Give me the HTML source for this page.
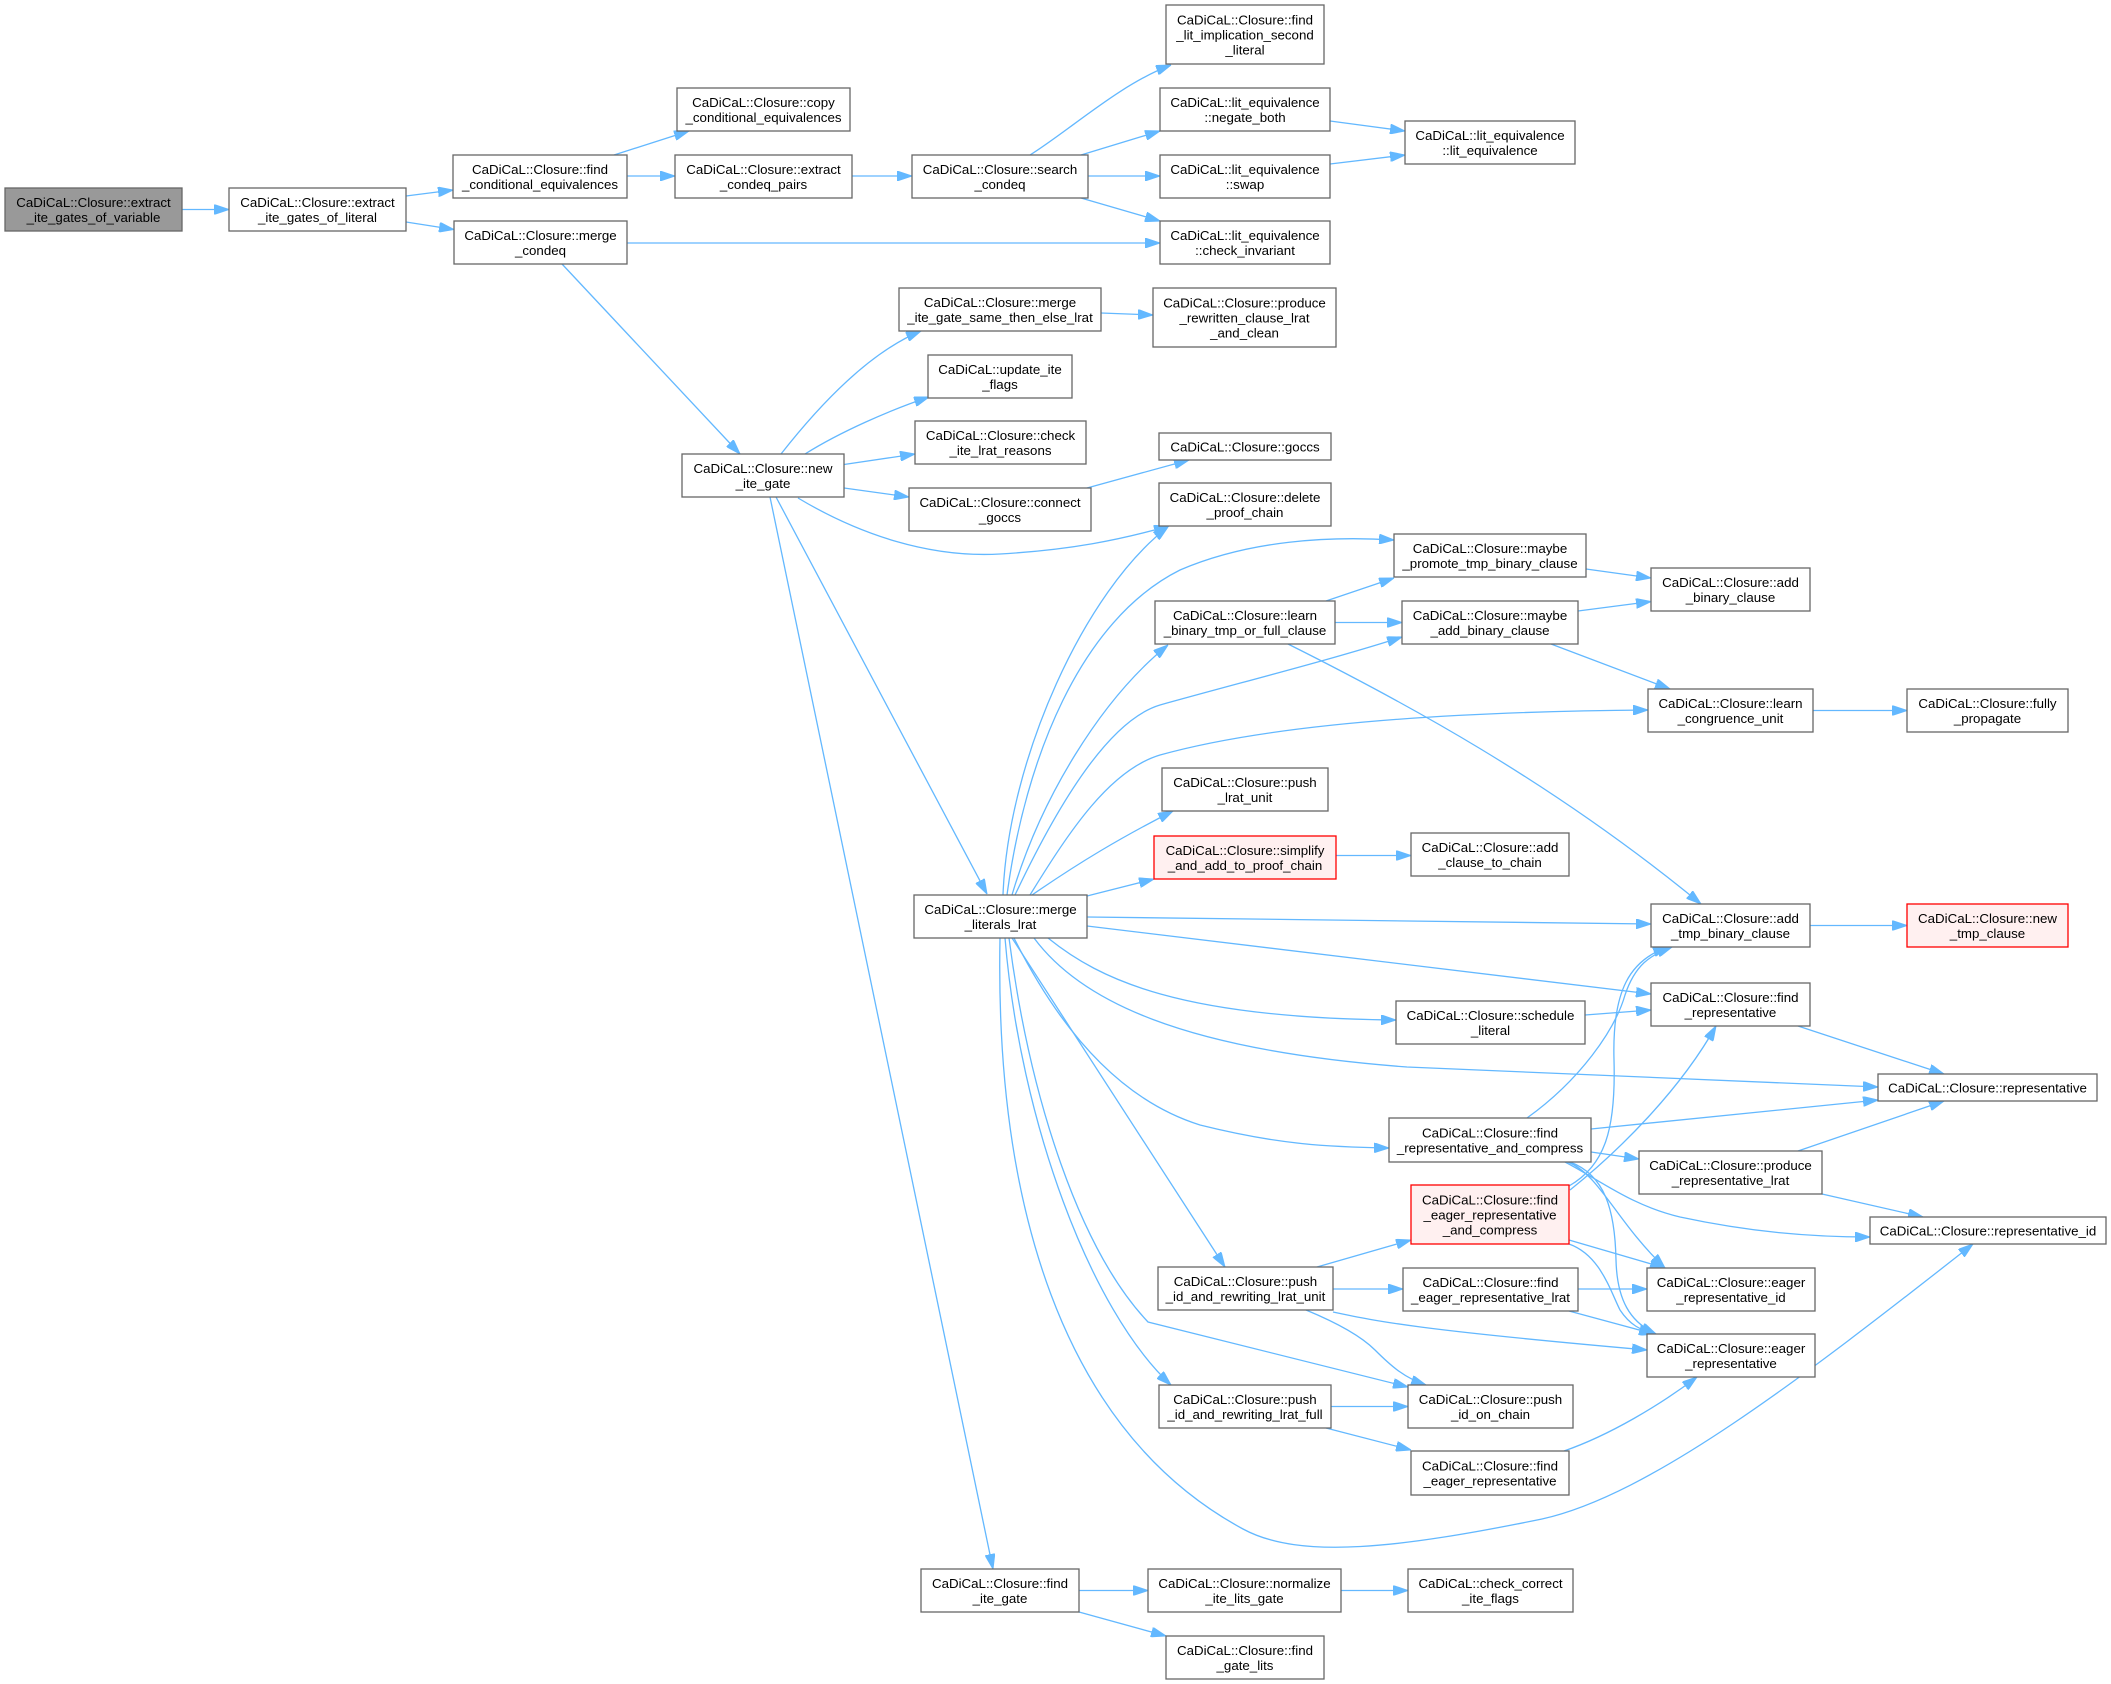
<!DOCTYPE html>
<html><head><meta charset="utf-8"><style>
html,body{margin:0;padding:0;background:#fff;}
svg{display:block;}
text{font-family:"Liberation Sans",Arial,sans-serif;font-size:13.3px;fill:#000;text-anchor:middle;}
.e{fill:none;stroke:#63b8ff;stroke-width:1.3;marker-end:url(#a);}
.n{fill:#fff;stroke:#666;stroke-width:1.3;}
.r{fill:#fff0f0;stroke:#ff0000;stroke-width:1.3;}
.g{fill:#999;stroke:#666;stroke-width:1.3;}
</style></head><body>
<svg width="2111" height="1684" viewBox="0 0 2111 1684" xmlns="http://www.w3.org/2000/svg">
<defs><marker id="a" markerUnits="userSpaceOnUse" markerWidth="15" markerHeight="10" refX="15" refY="5" orient="auto" viewBox="0 0 15 10"><path d="M0,0 L15,5 L0,10 z" fill="#63b8ff" stroke="#63b8ff" stroke-width="1"/></marker></defs>
<rect width="2111" height="1684" fill="#fff"/>
<!-- edges -->
<path class="e" d="M182,209.5 L229,209.5"/>
<path class="e" d="M406,196 L453,190"/>
<path class="e" d="M406,222 L454,229.5"/>
<path class="e" d="M614,155 L689,131"/>
<path class="e" d="M627,176 L675,176"/>
<path class="e" d="M852,176 L912,176"/>
<path class="e" d="M627,243 L1160,243"/>
<path class="e" d="M562,264 L740,454"/>
<path class="e" d="M1030,155 C1070,130 1120,84 1171,65"/>
<path class="e" d="M1081,155 L1160,131"/>
<path class="e" d="M1088,176 L1160,176"/>
<path class="e" d="M1081,198 L1160,221"/>
<path class="e" d="M1330,121 L1405,131"/>
<path class="e" d="M1330,164 L1405,155"/>
<path class="e" d="M781,454 C803,426 860,356 921,331"/>
<path class="e" d="M805,454 C840,432 890,410 929,397"/>
<path class="e" d="M844,464.5 L915,454"/>
<path class="e" d="M844,488 L909,497"/>
<path class="e" d="M798,498 C860,535 930,558 1000,554 C1070,550 1120,540 1169,526"/>
<path class="e" d="M1087,488 L1189,460"/>
<path class="e" d="M1101,313 L1153,315"/>
<path class="e" d="M776,497 L987,894"/>
<path class="e" d="M770,497 L993,1569"/>
<path class="e" d="M1003,895 C1008,760 1085,590 1168,527"/>
<path class="e" d="M1007,895 C1025,760 1080,620 1180,570 C1250,540 1330,536 1394,540"/>
<path class="e" d="M1012,895 C1040,800 1100,700 1168,645"/>
<path class="e" d="M1015,895 C1060,800 1110,720 1160,705 C1250,680 1330,660 1402,637"/>
<path class="e" d="M1030,895 C1070,830 1110,770 1160,755 C1250,730 1400,712 1648,710"/>
<path class="e" d="M1032,895 C1080,862 1120,838 1173,811"/>
<path class="e" d="M1087,896 L1154,879"/>
<path class="e" d="M1087,917 L1651,924"/>
<path class="e" d="M1087,926 L1651,994"/>
<path class="e" d="M1048,938 C1100,980 1180,1018 1396,1020"/>
<path class="e" d="M1034,938 C1080,1000 1180,1050 1407,1067 L1878,1087"/>
<path class="e" d="M1014,938 C1060,1030 1120,1100 1200,1125 C1280,1145 1330,1147 1389,1148"/>
<path class="e" d="M1012,938 L1225,1267"/>
<path class="e" d="M1009,938 C1030,1100 1080,1250 1148,1322 L1408,1387"/>
<path class="e" d="M1005,938 C1020,1120 1090,1310 1171,1385"/>
<path class="e" d="M1000,938 C995,1200 1060,1430 1243,1529 C1300,1560 1400,1548 1542,1519 C1650,1495 1800,1380 1973,1244"/>
<path class="e" d="M1326,601 L1394,578"/>
<path class="e" d="M1335,622.5 L1402,622.5"/>
<path class="e" d="M1288,644 C1400,700 1550,780 1701,904"/>
<path class="e" d="M1586,569 L1651,578"/>
<path class="e" d="M1578,611 L1651,601.5"/>
<path class="e" d="M1551,644 L1670,689"/>
<path class="e" d="M1813,710.5 L1907,710.5"/>
<path class="e" d="M1336,855.5 L1411,855.5"/>
<path class="e" d="M1810,925.5 L1907,925.5"/>
<path class="e" d="M1798,1026 L1944,1074"/>
<path class="e" d="M1585,1015 L1651,1010"/>
<path class="e" d="M1591,1129 L1878,1100"/>
<path class="e" d="M1527,1118 C1580,1080 1615,1030 1625,995 C1635,965 1650,955 1672,947"/>
<path class="e" d="M1591,1152 L1639,1159"/>
<path class="e" d="M1565,1162 C1600,1180 1630,1205 1680,1217 C1750,1232 1810,1237 1870,1237"/>
<path class="e" d="M1568,1162 C1600,1175 1615,1220 1665,1268"/>
<path class="e" d="M1570,1162 C1605,1175 1615,1210 1616,1260 C1617,1300 1630,1322 1656,1334"/>
<path class="e" d="M1569,1186 C1605,1165 1616,1130 1614,1060 C1612,990 1630,960 1668,947"/>
<path class="e" d="M1570,1190 C1620,1150 1680,1090 1716,1026"/>
<path class="e" d="M1569,1240 L1665,1268"/>
<path class="e" d="M1569,1244 C1600,1255 1610,1290 1620,1310 C1630,1325 1640,1330 1656,1334"/>
<path class="e" d="M1317,1267 L1411,1240"/>
<path class="e" d="M1333,1289 L1403,1289"/>
<path class="e" d="M1333,1312 C1380,1322 1420,1330 1647,1350"/>
<path class="e" d="M1306,1310 C1335,1322 1360,1335 1375,1350 C1392,1367 1405,1378 1426,1385"/>
<path class="e" d="M1578,1289 L1647,1289"/>
<path class="e" d="M1569,1311 L1654,1334"/>
<path class="e" d="M1331,1406.5 L1408,1406.5"/>
<path class="e" d="M1326,1428 L1411,1450"/>
<path class="e" d="M1564,1451 C1610,1435 1660,1405 1697,1377"/>
<path class="e" d="M1798,1151 L1944,1101"/>
<path class="e" d="M1822,1194 L1923,1217"/>
<path class="e" d="M1079,1590.5 L1148,1590.5"/>
<path class="e" d="M1079,1612 L1166,1636"/>
<path class="e" d="M1341,1590.5 L1408,1590.5"/>
<!-- nodes -->
<rect class="g" x="5" y="188" width="177" height="43"/><text x="93.5" y="207">CaDiCaL::Closure::extract</text><text x="93.5" y="222">_ite_gates_of_variable</text>
<rect class="n" x="229" y="188" width="177" height="43"/><text x="317.5" y="207">CaDiCaL::Closure::extract</text><text x="317.5" y="222">_ite_gates_of_literal</text>
<rect class="n" x="453" y="155" width="174" height="43"/><text x="540" y="174">CaDiCaL::Closure::find</text><text x="540" y="189">_conditional_equivalences</text>
<rect class="n" x="454" y="221" width="173" height="43"/><text x="540.5" y="240">CaDiCaL::Closure::merge</text><text x="540.5" y="255">_condeq</text>
<rect class="n" x="677" y="88" width="173" height="43"/><text x="763.5" y="107">CaDiCaL::Closure::copy</text><text x="763.5" y="122">_conditional_equivalences</text>
<rect class="n" x="675" y="155" width="177" height="43"/><text x="763.5" y="174">CaDiCaL::Closure::extract</text><text x="763.5" y="189">_condeq_pairs</text>
<rect class="n" x="912" y="155" width="176" height="43"/><text x="1000" y="174">CaDiCaL::Closure::search</text><text x="1000" y="189">_condeq</text>
<rect class="n" x="1166" y="5" width="158" height="59"/><text x="1245" y="24.5">CaDiCaL::Closure::find</text><text x="1245" y="39.5">_lit_implication_second</text><text x="1245" y="54.5">_literal</text>
<rect class="n" x="1160" y="88" width="170" height="43"/><text x="1245" y="107">CaDiCaL::lit_equivalence</text><text x="1245" y="122">::negate_both</text>
<rect class="n" x="1160" y="155" width="170" height="43"/><text x="1245" y="174">CaDiCaL::lit_equivalence</text><text x="1245" y="189">::swap</text>
<rect class="n" x="1160" y="221" width="170" height="43"/><text x="1245" y="240">CaDiCaL::lit_equivalence</text><text x="1245" y="255">::check_invariant</text>
<rect class="n" x="1405" y="121" width="170" height="43"/><text x="1490" y="140">CaDiCaL::lit_equivalence</text><text x="1490" y="155">::lit_equivalence</text>
<rect class="n" x="899" y="288" width="202" height="43"/><text x="1000" y="307">CaDiCaL::Closure::merge</text><text x="1000" y="322">_ite_gate_same_then_else_lrat</text>
<rect class="n" x="1153" y="288" width="183" height="59"/><text x="1244.5" y="307.5">CaDiCaL::Closure::produce</text><text x="1244.5" y="322.5">_rewritten_clause_lrat</text><text x="1244.5" y="337.5">_and_clean</text>
<rect class="n" x="928" y="355" width="144" height="43"/><text x="1000" y="374">CaDiCaL::update_ite</text><text x="1000" y="389">_flags</text>
<rect class="n" x="915" y="421" width="171" height="43"/><text x="1000.5" y="440">CaDiCaL::Closure::check</text><text x="1000.5" y="455">_ite_lrat_reasons</text>
<rect class="n" x="1159" y="433" width="172" height="27"/><text x="1245" y="451.5">CaDiCaL::Closure::goccs</text>
<rect class="n" x="909" y="488" width="182" height="43"/><text x="1000" y="507">CaDiCaL::Closure::connect</text><text x="1000" y="522">_goccs</text>
<rect class="n" x="1159" y="483" width="172" height="43"/><text x="1245" y="502">CaDiCaL::Closure::delete</text><text x="1245" y="517">_proof_chain</text>
<rect class="n" x="682" y="454" width="162" height="43"/><text x="763" y="473">CaDiCaL::Closure::new</text><text x="763" y="488">_ite_gate</text>
<rect class="n" x="1394" y="534" width="192" height="43"/><text x="1490" y="553">CaDiCaL::Closure::maybe</text><text x="1490" y="568">_promote_tmp_binary_clause</text>
<rect class="n" x="1155" y="601" width="180" height="43"/><text x="1245" y="620">CaDiCaL::Closure::learn</text><text x="1245" y="635">_binary_tmp_or_full_clause</text>
<rect class="n" x="1402" y="601" width="176" height="43"/><text x="1490" y="620">CaDiCaL::Closure::maybe</text><text x="1490" y="635">_add_binary_clause</text>
<rect class="n" x="1651" y="568" width="159" height="43"/><text x="1730.5" y="587">CaDiCaL::Closure::add</text><text x="1730.5" y="602">_binary_clause</text>
<rect class="n" x="1648" y="689" width="165" height="43"/><text x="1730.5" y="708">CaDiCaL::Closure::learn</text><text x="1730.5" y="723">_congruence_unit</text>
<rect class="n" x="1907" y="689" width="161" height="43"/><text x="1987.5" y="708">CaDiCaL::Closure::fully</text><text x="1987.5" y="723">_propagate</text>
<rect class="n" x="1162" y="768" width="166" height="43"/><text x="1245" y="787">CaDiCaL::Closure::push</text><text x="1245" y="802">_lrat_unit</text>
<rect class="r" x="1154" y="836" width="182" height="43"/><text x="1245" y="855">CaDiCaL::Closure::simplify</text><text x="1245" y="870">_and_add_to_proof_chain</text>
<rect class="n" x="1411" y="833" width="158" height="43"/><text x="1490" y="852">CaDiCaL::Closure::add</text><text x="1490" y="867">_clause_to_chain</text>
<rect class="n" x="914" y="895" width="173" height="43"/><text x="1000.5" y="914">CaDiCaL::Closure::merge</text><text x="1000.5" y="929">_literals_lrat</text>
<rect class="n" x="1651" y="904" width="159" height="43"/><text x="1730.5" y="923">CaDiCaL::Closure::add</text><text x="1730.5" y="938">_tmp_binary_clause</text>
<rect class="r" x="1907" y="904" width="161" height="43"/><text x="1987.5" y="923">CaDiCaL::Closure::new</text><text x="1987.5" y="938">_tmp_clause</text>
<rect class="n" x="1651" y="983" width="159" height="43"/><text x="1730.5" y="1002">CaDiCaL::Closure::find</text><text x="1730.5" y="1017">_representative</text>
<rect class="n" x="1396" y="1001" width="189" height="43"/><text x="1490.5" y="1020">CaDiCaL::Closure::schedule</text><text x="1490.5" y="1035">_literal</text>
<rect class="n" x="1878" y="1074" width="219" height="27"/><text x="1987.5" y="1092.5">CaDiCaL::Closure::representative</text>
<rect class="n" x="1389" y="1118" width="202" height="44"/><text x="1490" y="1137.5">CaDiCaL::Closure::find</text><text x="1490" y="1152.5">_representative_and_compress</text>
<rect class="n" x="1639" y="1151" width="183" height="43"/><text x="1730.5" y="1170">CaDiCaL::Closure::produce</text><text x="1730.5" y="1185">_representative_lrat</text>
<rect class="r" x="1411" y="1185" width="158" height="59"/><text x="1490" y="1204.5">CaDiCaL::Closure::find</text><text x="1490" y="1219.5">_eager_representative</text><text x="1490" y="1234.5">_and_compress</text>
<rect class="n" x="1870" y="1217" width="236" height="27"/><text x="1988" y="1235.5">CaDiCaL::Closure::representative_id</text>
<rect class="n" x="1158" y="1267" width="175" height="43"/><text x="1245.5" y="1286">CaDiCaL::Closure::push</text><text x="1245.5" y="1301">_id_and_rewriting_lrat_unit</text>
<rect class="n" x="1403" y="1268" width="175" height="43"/><text x="1490.5" y="1287">CaDiCaL::Closure::find</text><text x="1490.5" y="1302">_eager_representative_lrat</text>
<rect class="n" x="1647" y="1268" width="168" height="43"/><text x="1731" y="1287">CaDiCaL::Closure::eager</text><text x="1731" y="1302">_representative_id</text>
<rect class="n" x="1647" y="1334" width="168" height="43"/><text x="1731" y="1353">CaDiCaL::Closure::eager</text><text x="1731" y="1368">_representative</text>
<rect class="n" x="1159" y="1385" width="172" height="43"/><text x="1245" y="1404">CaDiCaL::Closure::push</text><text x="1245" y="1419">_id_and_rewriting_lrat_full</text>
<rect class="n" x="1408" y="1385" width="165" height="43"/><text x="1490.5" y="1404">CaDiCaL::Closure::push</text><text x="1490.5" y="1419">_id_on_chain</text>
<rect class="n" x="1411" y="1451" width="158" height="44"/><text x="1490" y="1470.5">CaDiCaL::Closure::find</text><text x="1490" y="1485.5">_eager_representative</text>
<rect class="n" x="921" y="1569" width="158" height="43"/><text x="1000" y="1588">CaDiCaL::Closure::find</text><text x="1000" y="1603">_ite_gate</text>
<rect class="n" x="1148" y="1569" width="193" height="43"/><text x="1244.5" y="1588">CaDiCaL::Closure::normalize</text><text x="1244.5" y="1603">_ite_lits_gate</text>
<rect class="n" x="1408" y="1569" width="165" height="43"/><text x="1490.5" y="1588">CaDiCaL::check_correct</text><text x="1490.5" y="1603">_ite_flags</text>
<rect class="n" x="1166" y="1636" width="158" height="43"/><text x="1245" y="1655">CaDiCaL::Closure::find</text><text x="1245" y="1670">_gate_lits</text>
</svg>
</body></html>
